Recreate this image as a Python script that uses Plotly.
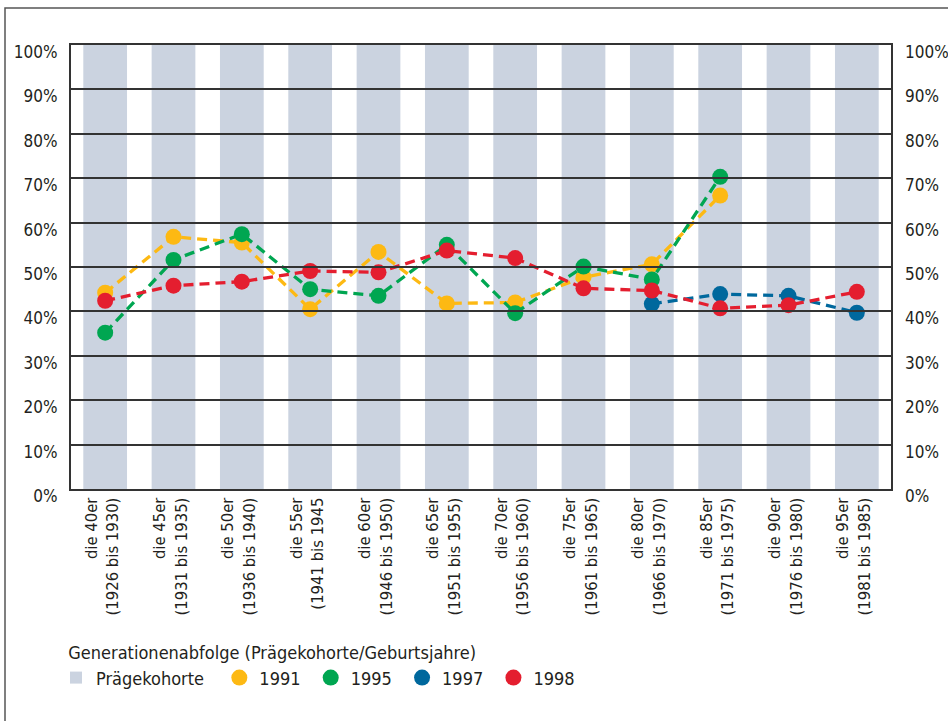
import plotly.graph_objects as go

categories = [
    "die 40er<br>(1926 bis 1930)",
    "die 45er<br>(1931 bis 1935)",
    "die 50er<br>(1936 bis 1940)",
    "die 55er<br>(1941 bis 1945",
    "die 60er<br>(1946 bis 1950)",
    "die 65er<br>(1951 bis 1955)",
    "die 70er<br>(1956 bis 1960)",
    "die 75er<br>(1961 bis 1965)",
    "die 80er<br>(1966 bis 1970)",
    "die 85er<br>(1971 bis 1975)",
    "die 90er<br>(1976 bis 1980)",
    "die 95er<br>(1981 bis 1985)",
]
praegekohorte = [100] * 12
v1991 = [44.2, 56.8, 55.5, 40.5, 53.4, 41.8, 42.0, 47.7, 50.6, 66.1, None, None]
v1995 = [35.2, 51.6, 57.4, 45.0, 43.5, 55.0, 39.6, 50.1, 47.2, 70.3, None, None]
v1997 = [None, None, None, None, None, None, None, None, 41.7, 43.9, 43.5, 39.7]
v1998 = [42.4, 45.8, 46.7, 49.1, 48.8, 53.7, 52.0, 45.2, 44.7, 40.7, 41.4, 44.4]
y_ticks = [0, 10, 20, 30, 40, 50, 60, 70, 80, 90, 100]
y_ticktext = ["0%", "10%", "20%", "30%", "40%", "50%", "60%", "70%", "80%", "90%", "100%"]

FONT = "Liberation Sans Narrow, DejaVu Sans Condensed, Arial Narrow, sans-serif"
TXT = "#231f20"
GRID = "#333333"
NB = "\u00a0"
series = [
    ("1991", v1991, "#fdb913"),
    ("1995", v1995, "#00a651"),
    ("1997", v1997, "#00689d"),
    ("1998", v1998, "#e41e2f"),
]

fig = go.Figure()
fig.add_trace(go.Bar(
    x=categories, y=praegekohorte, name="Prägekohorte" + NB * 2,
    marker=dict(color="#cbd3e0", line=dict(width=0)), width=0.64,
    hoverinfo="skip",
))
for name, vals, col in series:
    fig.add_trace(go.Scatter(
        x=categories, y=vals, mode="lines+markers", name=name, showlegend=False,
        line=dict(color=col, width=3.3, dash="10px,6px"),
        marker=dict(color=col, size=16),
    ))
for name, vals, col in series:
    fig.add_trace(go.Scatter(
        x=[categories[0]], y=[None], mode="markers", name=name + NB,
        marker=dict(color=col, size=16),
    ))
# activates the right-hand axis
fig.add_trace(go.Scatter(x=[categories[0]], y=[None], yaxis="y2", showlegend=False, hoverinfo="skip"))

fig.update_layout(
    width=948, height=721,
    margin=dict(l=71, r=57, t=45, b=232, autoexpand=False),
    paper_bgcolor="white", plot_bgcolor="white",
    font=dict(family=FONT, size=17, color=TXT),
    xaxis=dict(
        type="category", tickangle=-90, showgrid=False, ticks="",
        showline=True, linecolor=GRID, linewidth=2, mirror=True,
        layer="above traces", tickfont=dict(size=16.5),
        range=[-0.5, 11.5], automargin=False, ticklabelshift=-3,
    ),
    yaxis=dict(
        range=[0, 100], tickvals=y_ticks, ticktext=y_ticktext, showgrid=False,
        ticks="inside", ticklen=820, tickwidth=2, tickcolor=GRID,
        showline=True, linecolor=GRID, linewidth=2, mirror=True,
        layer="above traces", ticklabelshift=7, ticklabelstandoff=8,
        zeroline=False, automargin=False,
    ),
    yaxis2=dict(
        range=[0, 100], tickvals=y_ticks, ticktext=y_ticktext, showgrid=False,
        overlaying="y", side="right", ticks="", zeroline=False,
        ticklabelshift=7, ticklabelstandoff=13, showline=False, automargin=False,
    ),
    legend=dict(
        orientation="h", xref="container", yref="container",
        x=56 / 948, y=1 - 636 / 721, xanchor="left", yanchor="top",
        title=dict(text=NB * 2 + "Generationenabfolge (Prägekohorte/Geburtsjahre)", side="top",
                   font=dict(size=18, color=TXT)),
        font=dict(size=18, color=TXT), bgcolor="rgba(0,0,0,0)",
        itemclick=False,
    ),
    shapes=[dict(
        type="rect", xref="paper", yref="paper",
        x0=(5 - 71) / 820, x1=1.3, y0=-0.7, y1=(489 - 8) / 444,
        line=dict(color="#555555", width=1.5), fillcolor="rgba(0,0,0,0)", layer="below",
    )],
)

fig.write_html(
    "out.html",
    config=dict(displayModeBar=False),
    post_script="document.body.style.margin='0';document.body.style.overflow='hidden';",
)
